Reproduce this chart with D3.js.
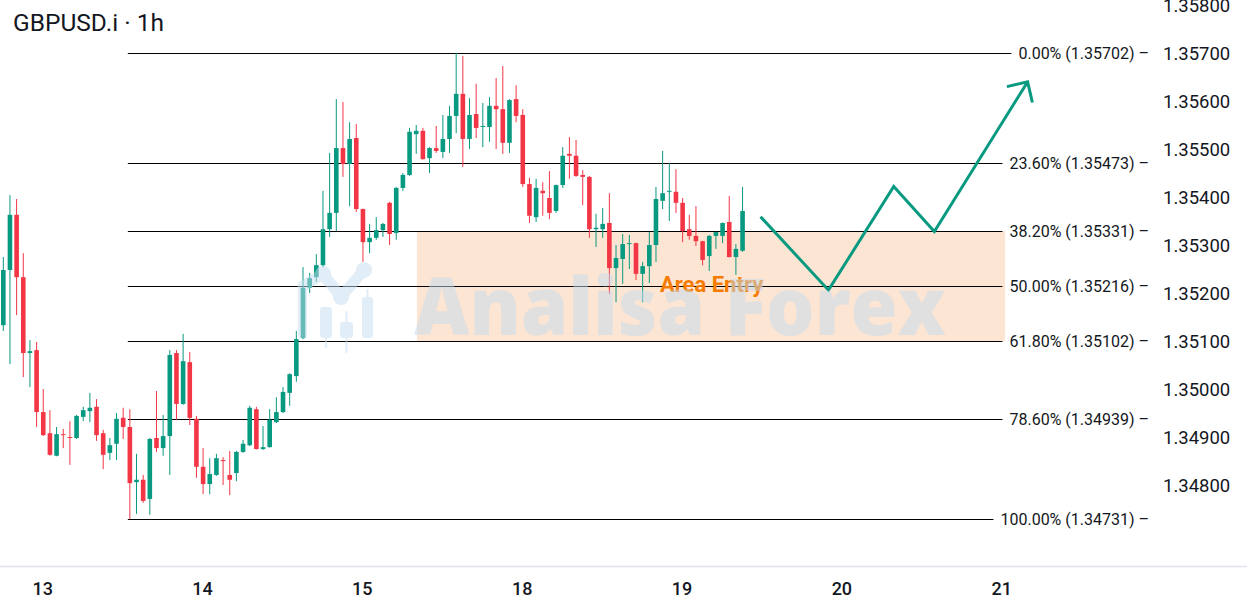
<!DOCTYPE html>
<html>
<head>
<meta charset="utf-8">
<script src="https://cdn.jsdelivr.net/npm/d3@7"></script>
<style>
  html, body { margin: 0; padding: 0; background: #fff; }
  svg { display: block; }
</style>
</head>
<body>
<svg id="chart" width="1247" height="611"></svg>
<script>
// GBPUSD.i 1h candles (index 0 = 12th 18:00)
const open = [
  1.35135, 1.35250, 1.35365, 1.35235, 1.35077, 1.35083, 1.34954, 1.34910, 1.34863, 1.34908,
  1.34902, 1.34900, 1.34944, 1.34956, 1.34965, 1.34910, 1.34869, 1.34888, 1.34942, 1.34923,
  1.34808, 1.34813, 1.34773, 1.34900, 1.34879, 1.34904, 1.35077, 1.34971, 1.35058, 1.34940,
  1.34840, 1.34804, 1.34823, 1.34854, 1.34823, 1.34827, 1.34871, 1.34885, 1.34960, 1.34877,
  1.34881, 1.34933, 1.34954, 1.34994, 1.35029, 1.35108, 1.35213, 1.35235, 1.35260, 1.35335,
  1.35369, 1.35504, 1.35471, 1.35525, 1.35377, 1.35308, 1.35317, 1.35333, 1.35390, 1.35327,
  1.35421, 1.35448, 1.35533, 1.35540, 1.35483, 1.35504, 1.35496, 1.35523, 1.35571, 1.35617,
  1.35523, 1.35575, 1.35548, 1.35548, 1.35592, 1.35585, 1.35515, 1.35606, 1.35573, 1.35429,
  1.35360, 1.35415, 1.35400, 1.35373, 1.35427, 1.35492, 1.35488, 1.35448, 1.35444, 1.35335,
  1.35335, 1.35348, 1.35254, 1.35273, 1.35304, 1.35306, 1.35242, 1.35258, 1.35302, 1.35394,
  1.35413, 1.35413, 1.35390, 1.35335, 1.35321, 1.35310, 1.35279, 1.35321, 1.35321, 1.35350,
  1.35277, 1.35290
];
const high = [
  1.35277, 1.35406, 1.35398, 1.35285, 1.35104, 1.35100, 1.35002, 1.34958, 1.34923, 1.34919,
  1.34935, 1.34948, 1.34965, 1.34994, 1.34981, 1.34917, 1.34900, 1.34952, 1.34963, 1.34960,
  1.34867, 1.34823, 1.34900, 1.34998, 1.34948, 1.35083, 1.35083, 1.35117, 1.35079, 1.34946,
  1.34879, 1.34858, 1.34867, 1.34860, 1.34873, 1.34873, 1.34896, 1.34967, 1.34965, 1.34925,
  1.34960, 1.34985, 1.35006, 1.35035, 1.35123, 1.35256, 1.35244, 1.35283, 1.35415, 1.35494,
  1.35606, 1.35600, 1.35558, 1.35554, 1.35378, 1.35346, 1.35360, 1.35348, 1.35392, 1.35423,
  1.35452, 1.35546, 1.35552, 1.35546, 1.35506, 1.35550, 1.35573, 1.35592, 1.35702, 1.35696,
  1.35608, 1.35638, 1.35598, 1.35610, 1.35650, 1.35675, 1.35606, 1.35635, 1.35585, 1.35442,
  1.35440, 1.35433, 1.35456, 1.35428, 1.35506, 1.35527, 1.35521, 1.35458, 1.35446, 1.35367,
  1.35379, 1.35410, 1.35302, 1.35325, 1.35323, 1.35307, 1.35267, 1.35329, 1.35423, 1.35498,
  1.35473, 1.35460, 1.35400, 1.35365, 1.35383, 1.35311, 1.35323, 1.35330, 1.35349, 1.35404,
  1.35304, 1.35423
];
const low = [
  1.35123, 1.35054, 1.35156, 1.35027, 1.35006, 1.34923, 1.34904, 1.34863, 1.34862, 1.34879,
  1.34844, 1.34898, 1.34935, 1.34933, 1.34894, 1.34835, 1.34854, 1.34854, 1.34898, 1.34731,
  1.34742, 1.34765, 1.34740, 1.34871, 1.34863, 1.34823, 1.34938, 1.34969, 1.34927, 1.34817,
  1.34783, 1.34783, 1.34821, 1.34802, 1.34781, 1.34810, 1.34869, 1.34883, 1.34876, 1.34875,
  1.34880, 1.34931, 1.34952, 1.34967, 1.35017, 1.35106, 1.35202, 1.35225, 1.35256, 1.35319,
  1.35331, 1.35444, 1.35383, 1.35371, 1.35267, 1.35285, 1.35313, 1.35319, 1.35302, 1.35313,
  1.35415, 1.35446, 1.35492, 1.35480, 1.35452, 1.35494, 1.35483, 1.35494, 1.35535, 1.35465,
  1.35502, 1.35525, 1.35506, 1.35517, 1.35502, 1.35492, 1.35494, 1.35558, 1.35423, 1.35348,
  1.35350, 1.35363, 1.35356, 1.35369, 1.35421, 1.35440, 1.35444, 1.35385, 1.35317, 1.35298,
  1.35317, 1.35200, 1.35183, 1.35221, 1.35252, 1.35229, 1.35183, 1.35223, 1.35267, 1.35377,
  1.35352, 1.35369, 1.35308, 1.35313, 1.35300, 1.35260, 1.35248, 1.35294, 1.35306, 1.35276,
  1.35240, 1.35288
];
const close = [
  1.35250, 1.35365, 1.35235, 1.35077, 1.35081, 1.34954, 1.34906, 1.34865, 1.34908, 1.34906,
  1.34900, 1.34946, 1.34958, 1.34963, 1.34906, 1.34865, 1.34885, 1.34940, 1.34923, 1.34806,
  1.34813, 1.34769, 1.34898, 1.34879, 1.34904, 1.35073, 1.34971, 1.35060, 1.34942, 1.34840,
  1.34804, 1.34825, 1.34858, 1.34852, 1.34813, 1.34871, 1.34888, 1.34963, 1.34877, 1.34881,
  1.34938, 1.34954, 1.34996, 1.35033, 1.35106, 1.35213, 1.35233, 1.35260, 1.35335, 1.35369,
  1.35504, 1.35471, 1.35523, 1.35377, 1.35308, 1.35317, 1.35333, 1.35346, 1.35325, 1.35421,
  1.35448, 1.35538, 1.35540, 1.35481, 1.35504, 1.35498, 1.35523, 1.35571, 1.35617, 1.35523,
  1.35573, 1.35546, 1.35550, 1.35592, 1.35585, 1.35515, 1.35604, 1.35571, 1.35429, 1.35363,
  1.35421, 1.35410, 1.35369, 1.35427, 1.35488, 1.35488, 1.35446, 1.35444, 1.35335, 1.35338,
  1.35346, 1.35254, 1.35275, 1.35304, 1.35306, 1.35242, 1.35258, 1.35302, 1.35398, 1.35410,
  1.35415, 1.35390, 1.35331, 1.35321, 1.35310, 1.35271, 1.35321, 1.35329, 1.35348, 1.35277,
  1.35294, 1.35373
];

// x axis labels (bar index where each day starts)
const dayLabels = ["13", "14", "15", "18", "19", "20", "21"];
const dayIndex = [6, 30, 54, 78, 102, 126, 150];

// price axis ticks
const priceTicks = [1.358, 1.357, 1.356, 1.355, 1.354, 1.353, 1.352, 1.351, 1.350, 1.349, 1.348];

// fibonacci retracement from the low (1.34731) to the high (1.35702)
const fibRatios = [0, 0.236, 0.382, 0.5, 0.618, 0.786, 1];
const fibPrices = [1.35702, 1.35473, 1.35331, 1.35216, 1.35102, 1.34939, 1.34731];
const fibStart = 18.7;

// entry zone (between 38.2% and 61.8%)
const zoneIdx = [62.1, 150.4];
const zonePrice = [1.35331, 1.35102];
const zoneLabel = { text: "Area Entry", idx: 98.6, price: 1.35204 };

// projected path
const pathIdx = [113.7, 123.9, 133.7, 139.8, 153.8];
const pathPrice = [1.35361, 1.35208, 1.35424, 1.35330, 1.35642];

const W = 1247, H = 611;
const UP = "#089981", DOWN = "#f23645";
const svg = d3.select("#chart");

const x = d3.scaleLinear().domain([0, 150]).range([3.3, 1002.3]);
const y = d3.scaleLinear().domain([1.358, 1.348]).range([6, 486]);

// arrow head marker
svg.append("defs").append("marker")
  .attr("id", "arrow")
  .attr("viewBox", "-20 -20 40 40")
  .attr("refX", 0)
  .attr("refY", 0)
  .attr("markerWidth", 40)
  .attr("markerHeight", 40)
  .attr("markerUnits", "userSpaceOnUse")
  .attr("orient", "auto")
  .append("path")
  .attr("d", "M-15,-15L0,0L-15,15")
  .attr("fill", "none")
  .attr("stroke", UP)
  .attr("stroke-width", 3);

// entry zone
svg.append("rect")
  .attr("x", x(zoneIdx[0]))
  .attr("y", y(zonePrice[0]))
  .attr("width", x(zoneIdx[1]) - x(zoneIdx[0]))
  .attr("height", y(zonePrice[1]) - y(zonePrice[0]))
  .attr("fill", "#fde5d3");

// fib lines and labels
const fib = svg.append("g");
fibPrices.forEach((p, i) => {
  const label = fib.append("text")
    .attr("x", 1149)
    .attr("y", y(p))
    .attr("dy", "0.35em")
    .attr("text-anchor", "end")
    .attr("font-family", "Roboto, sans-serif")
    .attr("font-size", "16px")
    .attr("fill", "#131722")
    .text(`${(fibRatios[i] * 100).toFixed(2)}% (${p.toFixed(5)}) \u2013`);
  const startX = 1149 - label.node().getComputedTextLength();
  fib.append("line")
    .attr("x1", x(fibStart))
    .attr("x2", startX - 7)
    .attr("y1", Math.round(y(p)) + 0.5)
    .attr("y2", Math.round(y(p)) + 0.5)
    .attr("stroke", "#000")
    .attr("stroke-width", 1.2);
});

// candles
const idx = d3.range(open.length);
const candles = svg.append("g");
candles.selectAll("line.wick")
  .data(idx)
  .enter()
  .append("line")
  .attr("class", "wick")
  .attr("x1", i => x(i))
  .attr("x2", i => x(i))
  .attr("y1", i => y(high[i]))
  .attr("y2", i => y(low[i]))
  .attr("stroke", i => close[i] >= open[i] ? UP : DOWN)
  .attr("stroke-width", 1);

candles.selectAll("rect.body")
  .data(idx)
  .enter()
  .append("rect")
  .attr("class", "body")
  .attr("x", i => x(i) - 2.3)
  .attr("width", 4.6)
  .attr("y", i => y(Math.max(open[i], close[i])))
  .attr("height", i => Math.max(1, Math.abs(y(open[i]) - y(close[i]))))
  .attr("fill", i => close[i] >= open[i] ? UP : DOWN);

// label in zone
svg.append("text")
  .attr("x", x(zoneLabel.idx))
  .attr("y", y(zoneLabel.price))
  .attr("font-family", "Roboto, sans-serif")
  .attr("font-weight", "bold")
  .attr("font-size", "22px")
  .attr("fill", "#f57c00")
  .text(zoneLabel.text);

// projected path
svg.append("path")
  .datum(pathIdx.map((d, i) => [x(d), y(pathPrice[i])]))
  .attr("d", d3.line())
  .attr("fill", "none")
  .attr("stroke", UP)
  .attr("stroke-width", 3)
  .attr("stroke-linejoin", "miter")
  .attr("marker-end", "url(#arrow)");

// watermark (on top, semi transparent)
const wm = svg.append("g")
  .attr("fill", "#c4dcf0")
  .attr("stroke", "#c4dcf0")
  .attr("opacity", 0.5);
wm.append("text")
  .attr("x", 414)
  .attr("y", 335)
  .attr("stroke", "none")
  .attr("font-family", "'Open Sans', sans-serif")
  .attr("font-weight", 800)
  .attr("font-size", "80px")
  .attr("textLength", 532)
  .attr("lengthAdjust", "spacingAndGlyphs")
  .text("Analisa Forex");
const logo = wm.append("g").attr("stroke-linecap", "round");
[[298, 287, 9, 51], [320, 307, 12, 31], [340, 322, 13, 16], [362, 297, 11, 41]].forEach(b => {
  logo.append("rect")
    .attr("x", b[0]).attr("y", b[1]).attr("width", b[2]).attr("height", b[3])
    .attr("rx", 3).attr("stroke", "none");
});
logo.append("line").attr("x1", 326).attr("x2", 326).attr("y1", 336).attr("y2", 347).attr("stroke-width", 2);
logo.append("line").attr("x1", 346.5).attr("x2", 346.5).attr("y1", 312).attr("y2", 352).attr("stroke-width", 2);
logo.append("line").attr("x1", 367.5).attr("x2", 367.5).attr("y1", 290).attr("y2", 300).attr("stroke-width", 2);
logo.append("path")
  .attr("d", "M303,286L323,274L341,297L364,270")
  .attr("fill", "none")
  .attr("stroke-width", 11)
  .attr("stroke-linejoin", "round");
[[323, 274], [341, 297], [364, 270]].forEach(c => {
  logo.append("circle").attr("cx", c[0]).attr("cy", c[1]).attr("r", 8).attr("stroke", "none");
});

// price axis labels
svg.append("g").selectAll("text")
  .data(priceTicks)
  .enter()
  .append("text")
  .attr("x", 1163)
  .attr("y", d => y(d))
  .attr("dy", "0.35em")
  .attr("font-family", "Roboto, sans-serif")
  .attr("font-size", "18.5px")
  .attr("fill", "#131722")
  .text(d => d.toFixed(5));

// time axis
svg.append("line")
  .attr("x1", 0).attr("x2", W)
  .attr("y1", 566.5).attr("y2", 566.5)
  .attr("stroke", "#e0e3eb")
  .attr("stroke-width", 1.5);

svg.append("g").selectAll("text")
  .data(dayLabels)
  .enter()
  .append("text")
  .attr("x", (d, i) => x(dayIndex[i]) - 0.6)
  .attr("y", 589)
  .attr("dy", "0.35em")
  .attr("text-anchor", "middle")
  .attr("font-family", "Roboto, sans-serif")
  .attr("font-weight", 500)
  .attr("font-size", "18px")
  .attr("fill", "#131722")
  .text(d => d);

// title
svg.append("text")
  .attr("x", 13)
  .attr("y", 31)
  .attr("font-family", "Roboto, sans-serif")
  .attr("font-size", "24.5px")
  .attr("fill", "#131722")
  .text("GBPUSD.i \u00b7 1h");
</script>
</body>
</html>
